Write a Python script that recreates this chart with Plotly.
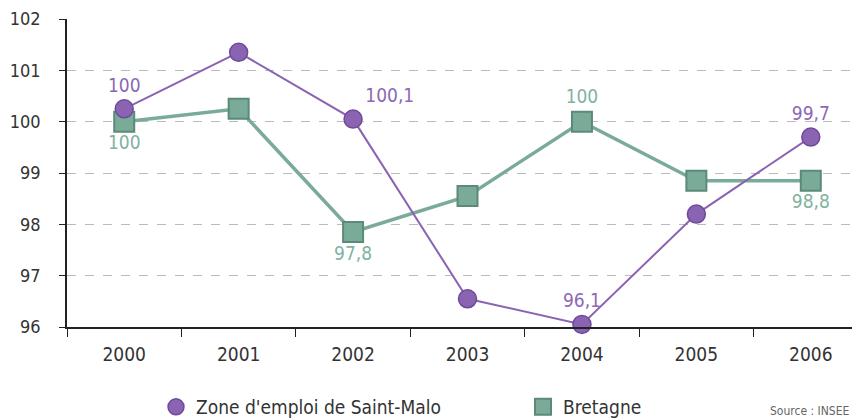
import plotly.graph_objects as go

years = ["2000", "2001", "2002", "2003", "2004", "2005", "2006"]
saint_malo = [100.25, 101.35, 100.05, 96.55, 96.05, 98.2, 99.7]
bretagne = [100.0, 100.25, 97.85, 98.55, 100.0, 98.85, 98.85]
sm_labels = ["100", "", "100,1", "", "96,1", "", "99,7"]
br_labels = ["100", "", "97,8", "", "100", "", "98,8"]
y_ticks = [96, 97, 98, 99, 100, 101, 102]

FONT = "DejaVu Sans Condensed, Roboto, sans-serif"
PURPLE = "#8a63b3"
PURPLE_DARK = "#6e4a98"
GREEN = "#7aab98"
GREEN_DARK = "#5c8a78"

fig = go.Figure()
fig.add_trace(go.Scatter(
    x=years, y=bretagne, name="Bretagne", mode="lines+markers+text", showlegend=False,
    line=dict(color=GREEN, width=3.5),
    marker=dict(symbol="square", size=20, color=GREEN, line=dict(color=GREEN_DARK, width=2)),
    text=br_labels,
    textposition=["bottom center", "bottom center", "bottom center", "bottom center",
                  "top center", "bottom center", "bottom center"],
    textfont=dict(color="#7fb3a0", size=19, family=FONT),
    cliponaxis=False,
))
fig.add_trace(go.Scatter(
    x=years, y=saint_malo, name="Zone d'emploi de Saint-Malo", mode="lines+markers+text",
    showlegend=False,
    line=dict(color=PURPLE, width=2),
    marker=dict(symbol="circle", size=18, color=PURPLE, line=dict(color=PURPLE_DARK, width=1.5)),
    text=sm_labels,
    textposition=["top center", "top center", "top right", "top center",
                  "top center", "top center", "top center"],
    textfont=dict(color="#8c68b8", size=19, family=FONT),
    cliponaxis=False,
))
# legend-only entries (markers without lines)
fig.add_trace(go.Scatter(
    x=[None], y=[None], name="Zone d'emploi de Saint-Malo", mode="markers",
    marker=dict(symbol="circle", size=18, color=PURPLE, line=dict(color=PURPLE_DARK, width=1.5)),
))
fig.add_trace(go.Scatter(
    x=[None], y=[None], name="Bretagne", mode="markers",
    marker=dict(symbol="square", size=20, color=GREEN, line=dict(color=GREEN_DARK, width=2)),
))

fig.update_layout(
    width=852, height=411,
    margin=dict(l=59, r=0, t=11, b=92, autoexpand=False),
    paper_bgcolor="white", plot_bgcolor="white",
    font=dict(family=FONT, size=19, color="#333333"),
    showlegend=True,
    legend=dict(orientation="h", x=(156 - 67) / 793, xanchor="left",
                y=-(407 - 327) / 308, yanchor="middle",
                font=dict(size=19, color="#333333"),
                entrywidthmode="pixels", entrywidth=322),
    xaxis=dict(type="category", range=[-0.5, 6.43], tickson="boundaries",
               ticks="outside", ticklen=8, tickcolor="#222", showline=True,
               linecolor="#222", linewidth=1.5, showgrid=False, automargin=False,
               ticklabelstandoff=9),
    yaxis=dict(range=[96, 102], tickvals=y_ticks, ticks="outside", ticklen=6,
               tickcolor="#222", showline=True, linecolor="#222", linewidth=1.5,
               showgrid=True, gridcolor="#bbbbbb", griddash="dash", gridwidth=1,
               zeroline=False, ticklabelstandoff=15, automargin=False,
               tickfont=dict(size=18), ticklabeloverflow="allow"),
    annotations=[dict(text="Source : INSEE", x=(768 - 67) / 793, xref="paper",
                      y=-(402 - 327) / 308, yref="paper",
                      xanchor="left", yanchor="top", showarrow=False,
                      font=dict(size=12, color="#666666"))],
)

fig.write_html("out.html")
